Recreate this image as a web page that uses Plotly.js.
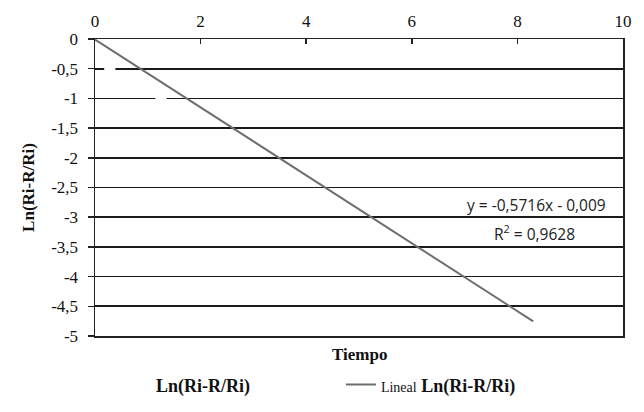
<!DOCTYPE html>
<html><head><meta charset="utf-8">
<script src="https://cdn.plot.ly/plotly-3.0.1.min.js"></script>
<style>html,body{margin:0;padding:0;background:#fff}#c{width:644px;height:412px}</style>
</head><body><div id="c"></div>
<script>
const seriesName = "Ln(Ri-R/Ri)";
const dataX = [0, 0.28, 1.25];
const dataY = [0, -0.5, -1.0];
const trendX = [0, 8.3];
const trendY = [-0.009, -4.753];
const xTicks = [0, 2, 4, 6, 8, 10];
const yTicks = [0, -0.5, -1, -1.5, -2, -2.5, -3, -3.5, -4, -4.5, -5];
const yTickLabels = ["0", "-0,5", "-1", "-1,5", "-2", "-2,5", "-3", "-3,5", "-4", "-4,5", "-5"];
const eqText = "y = -0,5716x - 0,009";
const r2Text = "R<sup>2</sup> = 0,9628";

const serif = "Liberation Serif, Times New Roman, serif";
const sans = "Open Sans, Liberation Sans, sans-serif";
const traces = [
  {x: dataX, y: dataY, type: 'scatter', mode: 'markers', name: '<b>' + seriesName + '</b>',
   cliponaxis: false,
   marker: {symbol: 'line-ew', size: 8, color: '#fff', line: {color: '#fff', width: 3}}},
  {x: trendX, y: trendY, type: 'scatter', mode: 'lines',
   name: '<span style="font-size:14px">Lineal</span> <b>' + seriesName + '</b>',
   line: {color: '#6e6e6e', width: 2}}
];
const layout = {
  width: 644, height: 412,
  margin: {l: 95, r: 21, t: 39, b: 76},
  paper_bgcolor: '#fff', plot_bgcolor: '#fff',
  separators: ',.',
  font: {family: serif, size: 16, color: '#111'},
  xaxis: {range: [0, 10], side: 'top', tickvals: xTicks, ticks: 'inside', ticklen: 5,
          tickcolor: '#222', tickwidth: 1.5, showgrid: false, zeroline: false,
          showline: true, linecolor: '#222', linewidth: 1.5, mirror: true,
          ticklabelstandoff: 4,
          tickfont: {family: serif, size: 17}},
  yaxis: {range: [-5, 0], tickvals: yTicks, ticktext: yTickLabels, ticks: 'outside', ticklen: 6,
          tickcolor: '#222', tickwidth: 1.5, showgrid: true, gridcolor: '#1a1a1a', gridwidth: 1.7,
          zeroline: false, showline: true, linecolor: '#222', linewidth: 1.5, mirror: true,
          ticklabelstandoff: 6,
          tickfont: {family: serif, size: 17},
          title: {text: '<b>' + seriesName + '</b>', font: {family: serif, size: 17}, standoff: 12}},
  showlegend: true,
  legend: {orientation: 'h', xref: 'container', yref: 'container', x: 0.18, xanchor: 'left',
           y: 0.066, yanchor: 'middle', font: {family: serif, size: 18}, itemwidth: 30,
           entrywidth: 180},
  annotations: [
    {xref: 'paper', yref: 'paper', x: 0.5, y: -0.025, xanchor: 'center', yanchor: 'top',
     text: '<b>Tiempo</b>', showarrow: false, font: {family: serif, size: 17}},
    {xref: 'x', yref: 'y', x: 9.72, y: -2.79, xanchor: 'right', yanchor: 'middle', text: eqText,
     showarrow: false, font: {family: sans, size: 15.5, color: '#222'}},
    {xref: 'x', yref: 'y', x: 9.12, y: -3.27, xanchor: 'right', yanchor: 'middle', text: r2Text,
     showarrow: false, font: {family: sans, size: 15.5, color: '#222'}}
  ]
};
Plotly.newPlot('c', traces, layout, {displayModeBar: false, staticPlot: true});
</script></body></html>
